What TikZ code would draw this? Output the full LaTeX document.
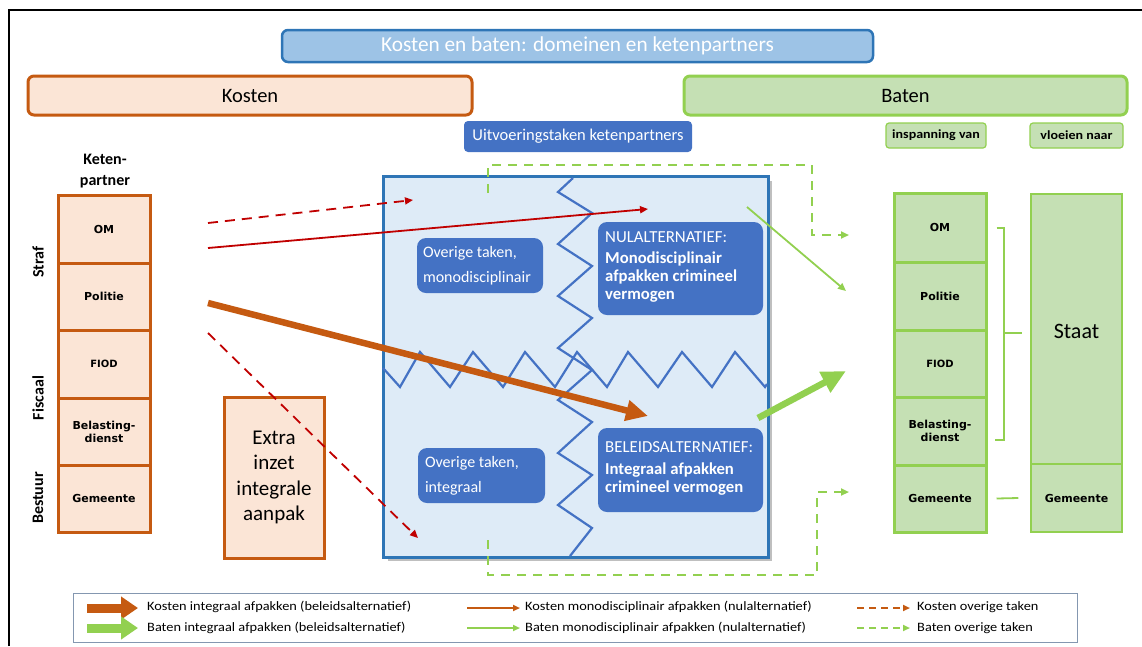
\documentclass[tikz,border=0pt]{standalone}
\usepackage{fontspec}
\setmainfont{Carlito}
\newfontfamily\vbfont{DejaVu Sans}
\newfontfamily\legfont{Carlito}[FakeStretch=1.12]
\usetikzlibrary{arrows.meta}
\definecolor{kfill}{HTML}{FBE5D6}
\definecolor{kdraw}{HTML}{C55A11}
\definecolor{bfill}{HTML}{C5E0B4}
\definecolor{bdraw}{HTML}{92D050}
\definecolor{tfill}{HTML}{9DC3E6}
\definecolor{tdraw}{HTML}{2E75B6}
\definecolor{mfill}{HTML}{DEEBF7}
\definecolor{accent}{HTML}{4472C4}
\definecolor{redarr}{HTML}{C00000}
\definecolor{leggray}{HTML}{8497B0}
\begin{document}
\begin{tikzpicture}[x=1pt,y=-1pt,
  every node/.style={inner sep=0pt},
  kbox/.style={rectangle, draw=kdraw, fill=kfill, line width=3pt, font=\fontsize{11}{13}\selectfont\vbfont\bfseries, align=center},
  gbox/.style={rectangle, draw=bdraw, fill=bfill, line width=3pt, font=\fontsize{11}{13}\selectfont\vbfont\bfseries, align=center},
  hdrbox/.style={rectangle, rounded corners=6pt, line width=3pt},
  bluebox/.style={rectangle, rounded corners=9pt, fill=accent, text=white},
  btxt/.style={text=white, align=left, font=\fontsize{16}{25}\selectfont},
  sidelbl/.style={rotate=90, font=\fontsize{16}{18}\selectfont\bfseries},
  zig/.style={draw=accent, line width=2.2pt, line join=miter},
  redsolid/.style={draw=redarr, line width=1.8pt, -{Triangle[length=8pt,width=7pt]}},
  reddash/.style={draw=redarr, line width=1.8pt, dash pattern=on 10pt off 7pt, -{Triangle[length=8pt,width=7pt]}},
  orthick/.style={draw=kdraw, line width=6.5pt, -{Triangle[length=22pt,width=20pt]}},
  grthin/.style={draw=bdraw, line width=1.8pt, -{Triangle[length=8pt,width=7pt]}},
  grthick/.style={draw=bdraw, line width=6.5pt, -{Triangle[length=24pt,width=22pt]}},
  grdash/.style={draw=bdraw, line width=2pt, dash pattern=on 9pt off 7pt, -{Triangle[length=8pt,width=7pt]}},
  legtxt/.style={anchor=west, font=\fontsize{12.8}{15}\selectfont\legfont}
]
\path[use as bounding box] (0,0) rectangle (1142,646);
% outer frame
\draw[line width=2pt] (9,646) -- (9,10) -- (1142,10);

% headers
\node[hdrbox, draw=tdraw, fill=tfill, line width=2.5pt, minimum width=591pt, minimum height=32pt, text=white, font=\fontsize{21.3}{24}\selectfont] (title) at (577.5,46) {Kosten en baten: domeinen en ketenpartners};
\node[hdrbox, draw=kdraw, fill=kfill, minimum width=444pt, minimum height=39pt, font=\fontsize{20.5}{24}\selectfont] (kosten) at (250,95.5) {Kosten};
\node[hdrbox, draw=bdraw, fill=bfill, minimum width=443pt, minimum height=39pt, font=\fontsize{20.5}{24}\selectfont] (baten) at (905.5,95.5) {Baten};
\node[rectangle, rounded corners=4pt, fill=accent, text=white, minimum width=228pt, minimum height=31pt, font=\fontsize{16.5}{19}\selectfont] (uitv) at (578,136.5) {Uitvoeringstaken ketenpartners};
\node[rectangle, rounded corners=3pt, draw=bdraw, line width=1.2pt, fill=bfill, minimum width=100pt, minimum height=25pt, font=\fontsize{12.5}{14}\selectfont\legfont\bfseries] (insp) at (936,135.5) {inspanning van};
\node[rectangle, rounded corners=3pt, draw=bdraw, line width=1.2pt, fill=bfill, minimum width=93pt, minimum height=25pt, font=\fontsize{12.5}{14}\selectfont\legfont\bfseries] (vloei) at (1076.5,135.5) {vloeien naar};

% left column
\node[align=center, font=\fontsize{16}{21}\selectfont\bfseries] (keten) at (105,171) {Keten-\\partner};
\node[kbox, minimum width=92pt, minimum height=68pt] (kom) at (104,229) {OM};
\node[kbox, minimum width=92pt, minimum height=67pt] (kpol) at (104,296.5) {Politie};
\node[kbox, minimum width=92pt, minimum height=68pt, font=\fontsize{10}{12}\selectfont\vbfont\bfseries] (kfiod) at (104,364) {FIOD};
\node[kbox, minimum width=92pt, minimum height=67pt] (kbel) at (104,431.5) {Belasting-\\dienst};
\node[kbox, minimum width=92pt, minimum height=67pt] (kgem) at (104,498.5) {Gemeente};
\node[sidelbl] (straf) at (38,262) {Straf};
\node[sidelbl] (fisc) at (38,398) {Fiscaal};
\node[sidelbl] (best) at (38,498) {Bestuur};

\node[rectangle, draw=kdraw, fill=kfill, line width=3pt, minimum width=100pt, minimum height=161pt, align=center, font=\fontsize{21}{25.5}\selectfont] (extra) at (274,477.5) {Extra\\inzet\\integrale\\aanpak};

% main box
\fill[black!25] (388,181) rectangle (772,561);
\node[rectangle, draw=tdraw, fill=mfill, line width=3pt, minimum width=385pt, minimum height=381pt] (main) at (575.5,366.5) {};

% zigzags
\draw[zig] (383,368) -- (400,387) -- (420,352) -- (450,387) -- (473,352) -- (503,387) -- (525,352) -- (555,387) -- (577,352) -- (607,387) -- (628,352) -- (658,387) -- (682,352) -- (712,387) -- (735,352) -- (765,387) -- (767,384);
\draw[zig] (573,178) -- (558,192) -- (592,213) -- (558,244) -- (592,266) -- (558,296) -- (592,318) -- (558,348) -- (592,370) -- (558,400) -- (592,422) -- (558,453) -- (592,475) -- (558,505) -- (592,528) -- (570,556);

% blue text boxes
\node[bluebox, minimum width=126pt, minimum height=55pt] (ov1) at (480,265.5) {};
\node[btxt, anchor=west] (ov1t) at ([xshift=6pt]ov1.west) {Overige taken,\\monodisciplinair};
\node[bluebox, minimum width=165pt, minimum height=93pt] (nul) at (680.5,268.5) {};
\node[anchor=west, text=white, font=\fontsize{16.8}{19}\selectfont] (nulh) at (605,237) {NULALTERNATIEF:};
\node[anchor=north west, text=white, align=left, font=\fontsize{16.7}{18}\selectfont\bfseries] (nulb) at (605,252) {Monodisciplinair\\afpakken crimineel\\vermogen};
\node[bluebox, minimum width=127pt, minimum height=55pt] (ov2) at (481.5,475.5) {};
\node[btxt, anchor=west] (ov2t) at ([xshift=7pt]ov2.west) {Overige taken,\\integraal};
\node[bluebox, minimum width=165pt, minimum height=84pt] (bel) at (680.5,470) {};
\node[anchor=west, text=white, font=\fontsize{16.8}{19}\selectfont] (belh) at (605,447) {BELEIDSALTERNATIEF:};
\node[anchor=north west, text=white, align=left, font=\fontsize{16.7}{18}\selectfont\bfseries] (belb) at (605,463) {Integraal afpakken\\crimineel vermogen};

% right column
\node[gbox, minimum width=92pt, minimum height=69pt] (rom) at (940,227.5) {OM};
\node[gbox, minimum width=92pt, minimum height=68pt] (rpol) at (940,296) {Politie};
\node[gbox, minimum width=92pt, minimum height=67pt, font=\fontsize{10}{12}\selectfont\vbfont\bfseries] (rfiod) at (940,363.5) {FIOD};
\node[gbox, minimum width=92pt, minimum height=68pt] (rbel) at (940,431) {Belasting-\\dienst};
\node[gbox, minimum width=92pt, minimum height=67pt] (rgem) at (940,498.5) {Gemeente};
\node[rectangle, draw=bdraw, fill=bfill, line width=1.5pt, minimum width=91pt, minimum height=270pt] (staat) at (1076.5,329) {};
\node[font=\fontsize{22}{26}\selectfont] (staatt) at (1076.5,331) {Staat};
\node[gbox, line width=1.5pt, minimum width=91pt, minimum height=68pt] (sgem) at (1076.5,498) {Gemeente};

% bracket and link
\draw[bdraw, line width=1.8pt] ([xshift=9pt]rom.east |- 0,228) -- (1004,228) -- (1004,440) -- (995,440);
\draw[bdraw, line width=1.8pt] (1004,333) -- ([xshift=-8pt]staat.west |- 0,333);
\draw[bdraw, line width=1.8pt] ([xshift=9pt]rgem.east) -- ([xshift=-12pt]sgem.west);

% arrows
\coordinate (r1s) at (208,223); \coordinate (r1e) at (413,200);
\coordinate (r2s) at (208,248); \coordinate (r2e) at (648,209);
\coordinate (os) at (208,303);  \coordinate (oe) at (648,416);
\coordinate (r3s) at (208,333); \coordinate (r3e) at (418,538);
\coordinate (g1s) at (747,207); \coordinate (g1e) at (846,291);
\coordinate (g2s) at (758,418); \coordinate (g2e) at (846,371);
\draw[reddash] (r1s) -- (r1e);
\draw[redsolid] (r2s) -- (r2e);
\draw[orthick] (os) -- (oe);
\draw[reddash] (r3s) -- (r3e);
\draw[grthin] (g1s) -- (g1e);
\draw[grthick] (g2s) -- (g2e);
\coordinate (gd1s) at (488,193); \coordinate (gd1e) at (849,235);
\coordinate (gd2s) at (488,540); \coordinate (gd2e) at (849,492);
\draw[grdash] (gd1s) -- (488,165) -- (812,165) -- (812,235) -- (gd1e);
\draw[grdash] (gd2s) -- (488,575) -- (817,575) -- (817,492) -- (gd2e);

% legend
\node[rectangle, draw=leggray, fill=white, line width=1pt, minimum width=1004pt, minimum height=49pt] (legend) at (575,617.5) {};
\coordinate (l1a) at (87,608);  \coordinate (l1b) at (138,608);
\coordinate (l2a) at (87,628);  \coordinate (l2b) at (138,628);
\coordinate (l3a) at (467,608); \coordinate (l3b) at (520,608);
\coordinate (l4a) at (467,628); \coordinate (l4b) at (520,628);
\coordinate (l5a) at (857,608); \coordinate (l5b) at (910,608);
\coordinate (l6a) at (857,628); \coordinate (l6b) at (910,628);
\draw[draw=kdraw, line width=9pt, -{Triangle[length=17pt,width=22pt]}] (l1a) -- (l1b);
\draw[draw=bdraw, line width=9pt, -{Triangle[length=17pt,width=22pt]}] (l2a) -- (l2b);
\draw[draw=kdraw, line width=2pt, -{Triangle[length=7pt,width=6pt]}] (l3a) -- (l3b);
\draw[draw=bdraw, line width=2pt, -{Triangle[length=7pt,width=6pt]}] (l4a) -- (l4b);
\draw[draw=kdraw, line width=2pt, dash pattern=on 7pt off 5pt, -{Triangle[length=7pt,width=6pt]}] (l5a) -- (l5b);
\draw[draw=bdraw, line width=2pt, dash pattern=on 7pt off 5pt, -{Triangle[length=7pt,width=6pt]}] (l6a) -- (l6b);
\node[legtxt] (t1) at (147,607) {Kosten integraal afpakken (beleidsalternatief)};
\node[legtxt] (t2) at (147,628) {Baten integraal afpakken (beleidsalternatief)};
\node[legtxt] (t3) at (525,607) {Kosten monodisciplinair afpakken (nulalternatief)};
\node[legtxt] (t4) at (525,628) {Baten monodisciplinair afpakken (nulalternatief)};
\node[legtxt] (t5) at (917,607) {Kosten overige taken};
\node[legtxt] (t6) at (917,628) {Baten overige taken};
\end{tikzpicture}
\end{document}
